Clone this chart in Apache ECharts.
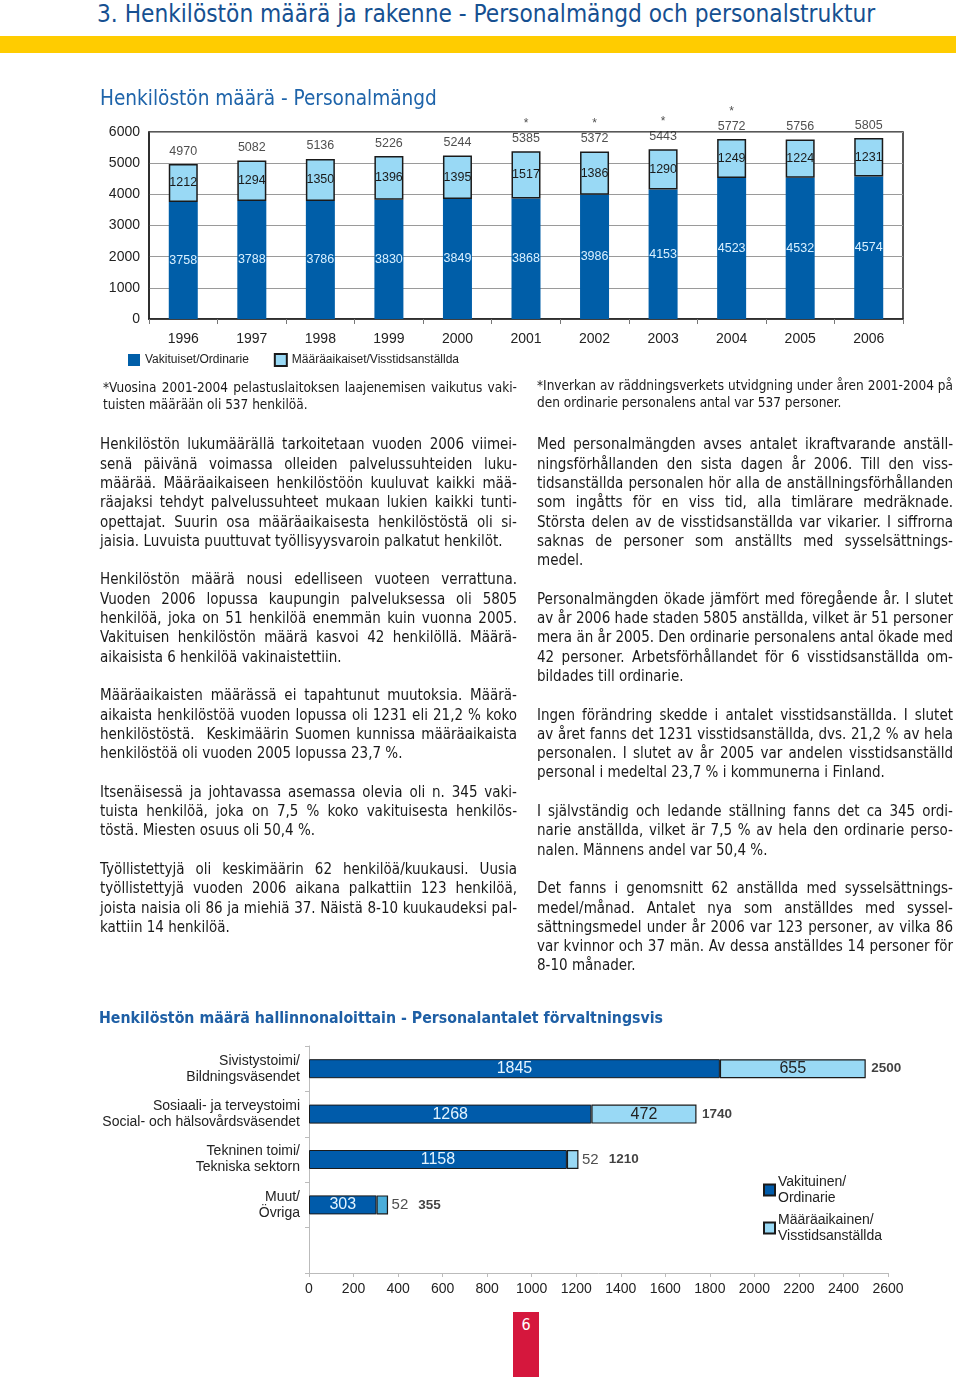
<!DOCTYPE html>
<html><head><meta charset="utf-8">
<script src="https://cdn.jsdelivr.net/npm/echarts@6/dist/echarts.min.js"></script>
<style>
html,body{margin:0;padding:0;background:#fff;}
#page{position:relative;width:960px;height:1377px;overflow:hidden;background:#fff;}
#chart{position:absolute;left:0;top:0;width:960px;height:1377px;}
.txt{position:absolute;font-family:"DejaVu Sans Condensed","DejaVu Sans",sans-serif;color:#1a1a1a;}
.txt div{white-space:nowrap;}
.j{text-align:justify;text-align-last:justify;}
.l{text-align:left;}
.blank{height:19.3px;}
#header{position:absolute;left:97px;top:1px;font-family:"DejaVu Sans Condensed","DejaVu Sans",sans-serif;font-size:24.2px;line-height:27px;color:#165091;white-space:nowrap;}
#band{position:absolute;left:0;top:36px;width:956px;height:17px;background:#FFCC00;}
#pagenum{position:absolute;left:513px;top:1312px;width:26px;height:65px;background:#D5173D;color:#fff;font-family:"DejaVu Sans Condensed","DejaVu Sans",sans-serif;font-size:16px;text-align:center;line-height:26px;}
</style></head>
<body><div id="page">
<div id="header">3. Henkilöstön määrä ja rakenne - Personalmängd och personalstruktur</div>
<div id="band"></div>
<div id="chart"></div>

<div class="txt" style="left:103px;top:378.5px;width:414px;font-size:13.5px;line-height:17px;">
<div class="j">*Vuosina 2001-2004 pelastuslaitoksen laajenemisen vaikutus vaki-</div>
<div class="l">tuisten määrään oli 537 henkilöä.</div>
</div>
<div class="txt" style="left:537px;top:376.5px;width:416px;font-size:13.5px;line-height:17px;">
<div class="j">*Inverkan av räddningsverkets utvidgning under åren 2001-2004 på</div>
<div class="l">den ordinarie personalens antal var 537 personer.</div>
</div>

<div class="txt" style="left:100px;top:435.4px;width:417px;font-size:15px;line-height:19.3px;">
<div class="j">Henkilöstön lukumäärällä tarkoitetaan vuoden 2006 viimei-</div>
<div class="j">senä päivänä voimassa olleiden palvelussuhteiden luku-</div>
<div class="j">määrää. Määräaikaiseen henkilöstöön kuuluvat kaikki mää-</div>
<div class="j">räajaksi tehdyt palvelussuhteet mukaan lukien kaikki tunti-</div>
<div class="j">opettajat. Suurin osa määräaikaisesta henkilöstöstä oli si-</div>
<div class="l">jaisia. Luvuista puuttuvat työllisyysvaroin palkatut henkilöt.</div>
<div class="blank"></div>
<div class="j">Henkilöstön määrä nousi edelliseen vuoteen verrattuna.</div>
<div class="j">Vuoden 2006 lopussa kaupungin palveluksessa oli 5805</div>
<div class="j">henkilöä, joka on 51 henkilöä enemmän kuin vuonna 2005.</div>
<div class="j">Vakituisen henkilöstön määrä kasvoi 42 henkilöllä. Määrä-</div>
<div class="l">aikaisista 6 henkilöä vakinaistettiin.</div>
<div class="blank"></div>
<div class="j">Määräaikaisten määrässä ei tapahtunut muutoksia. Määrä-</div>
<div class="j">aikaista henkilöstöä vuoden lopussa oli 1231 eli 21,2 % koko</div>
<div class="j">henkilöstöstä.&nbsp; Keskimäärin Suomen kunnissa määräaikaista</div>
<div class="l">henkilöstöä oli vuoden 2005 lopussa 23,7 %.</div>
<div class="blank"></div>
<div class="j">Itsenäisessä ja johtavassa asemassa olevia oli n. 345 vaki-</div>
<div class="j">tuista henkilöä, joka on 7,5 % koko vakituisesta henkilös-</div>
<div class="l">töstä. Miesten osuus oli 50,4 %.</div>
<div class="blank"></div>
<div class="j">Työllistettyjä oli keskimäärin 62 henkilöä/kuukausi. Uusia</div>
<div class="j">työllistettyjä vuoden 2006 aikana palkattiin 123 henkilöä,</div>
<div class="j">joista naisia oli 86 ja miehiä 37. Näistä 8-10 kuukaudeksi pal-</div>
<div class="l">kattiin 14 henkilöä.</div>
</div>

<div class="txt" style="left:537px;top:435.4px;width:416px;font-size:15px;line-height:19.3px;">
<div class="j">Med personalmängden avses antalet ikraftvarande anställ-</div>
<div class="j">ningsförhållanden den sista dagen år 2006. Till den viss-</div>
<div class="j">tidsanställda personalen hör alla de anställningsförhållanden</div>
<div class="j">som ingåtts för en viss tid, alla timlärare medräknade.</div>
<div class="j">Största delen av de visstidsanställda var vikarier. I siffrorna</div>
<div class="j">saknas de personer som anställts med sysselsättnings-</div>
<div class="l">medel.</div>
<div class="blank"></div>
<div class="j">Personalmängden ökade jämfört med föregående år. I slutet</div>
<div class="j">av år 2006 hade staden 5805 anställda, vilket är 51 personer</div>
<div class="j" style="letter-spacing:-0.05px;word-spacing:-0.5px;">mera än år 2005. Den ordinarie personalens antal ökade med</div>
<div class="j">42 personer. Arbetsförhållandet för 6 visstidsanställda om-</div>
<div class="l">bildades till ordinarie.</div>
<div class="blank"></div>
<div class="j">Ingen förändring skedde i antalet visstidsanställda. I slutet</div>
<div class="j">av året fanns det 1231 visstidsanställda, dvs. 21,2 % av hela</div>
<div class="j">personalen. I slutet av år 2005 var andelen visstidsanställd</div>
<div class="l">personal i medeltal 23,7 % i kommunerna i Finland.</div>
<div class="blank"></div>
<div class="j">I självständig och ledande ställning fanns det ca 345 ordi-</div>
<div class="j">narie anställda, vilket är 7,5 % av hela den ordinarie perso-</div>
<div class="l">nalen. Männens andel var 50,4 %.</div>
<div class="blank"></div>
<div class="j">Det fanns i genomsnitt 62 anställda med sysselsättnings-</div>
<div class="j">medel/månad. Antalet nya som anställdes med syssel-</div>
<div class="j">sättningsmedel under år 2006 var 123 personer, av vilka 86</div>
<div class="j">var kvinnor och 37 män. Av dessa anställdes 14 personer för</div>
<div class="l">8-10 månader.</div>
</div>

<div id="pagenum">6</div>
</div>
<script>
// ---- Data: staff count by year ----
const years = ['1996','1997','1998','1999','2000','2001','2002','2003','2004','2005','2006'];
const ordinary = [3758,3788,3786,3830,3849,3868,3986,4153,4523,4532,4574];
const temporary = [1212,1294,1350,1396,1395,1517,1386,1290,1249,1224,1231];
const totals = [4970,5082,5136,5226,5244,5385,5372,5443,5772,5756,5805];
const starred = [false,false,false,false,false,true,true,true,true,false,false];

// ---- Data: staff by sector ----
const sectors = ['Sivistystoimi/\nBildningsväsendet','Sosiaali- ja terveystoimi\nSocial- och hälsovårdsväsendet','Tekninen toimi/\nTekniska sektorn','Muut/\nÖvriga',''];
const sectorOrdinary = [1845,1268,1158,303];
const sectorTemporary = [655,472,52,52];
const sectorTotals = [2500,1740,1210,355];

const FONT = '"Liberation Sans", Arial, sans-serif';
const TFONT = '"DejaVu Sans Condensed", "DejaVu Sans", sans-serif';
const DARK = '#005EA8';
const LIGHT = '#99D9F5';
const INK = '#1a1a1a';
const plain = v => String(v);

const chart = echarts.init(document.getElementById('chart'), null, {renderer:'canvas'});
chart.setOption({
  animation:false,
  textStyle:{fontFamily:FONT},
  title:[
    {text:'Henkilöstön määrä - Personalmängd', left:100, top:89, padding:0,
     textStyle:{fontFamily:TFONT, fontSize:20.6, fontWeight:'normal', color:'#1e64aa'}},
    {text:'Henkilöstön määrä hallinnonaloittain - Personalantalet förvaltningsvis', left:99, top:1011, padding:0,
     textStyle:{fontFamily:TFONT, fontSize:15.75, fontWeight:'bold', color:'#1e5fa5'}}
  ],
  legend:[
    {data:['Vakituiset/Ordinarie','Määräaikaiset/Visstidsanställda'], left:128, top:353, padding:0,
     itemWidth:12, itemHeight:12, itemGap:25, icon:'rect',
     textStyle:{fontFamily:FONT, fontSize:12, color:'#222'}},
    {data:['Vakituinen/\nOrdinarie','Määräaikainen/\nVisstidsanställda'], orient:'vertical', left:763, top:1166, padding:0,
     itemWidth:11, itemHeight:11, itemGap:-10, icon:'rect',
     textStyle:{fontFamily:FONT, fontSize:14, color:'#222', lineHeight:16, padding:[16,0,0,-2]}}
  ],
  grid:[
    {left:149, top:132, width:754, height:187, show:true, borderColor:'#222', borderWidth:1.5, containLabel:false},
    {left:309, top:1046, width:579, height:227, containLabel:false}
  ],
  xAxis:[
    {gridIndex:0, type:'category', data:years,
     axisLine:{lineStyle:{color:'#222', width:1.5}},
     axisTick:{show:true, length:5, lineStyle:{color:'#777'}},
     axisLabel:{fontSize:14, color:'#222', margin:13}},
    {gridIndex:1, type:'value', min:0, max:2600, interval:200,
     axisLine:{show:true, lineStyle:{color:'#bbb'}},
     axisTick:{show:true, length:4, lineStyle:{color:'#bbb'}},
     splitLine:{show:false},
     axisLabel:{fontSize:14, color:'#222', margin:9, formatter:plain}}
  ],
  yAxis:[
    {gridIndex:0, type:'value', min:0, max:6000, interval:1000,
     axisLine:{show:true, lineStyle:{color:'#222', width:1.5}},
     axisTick:{show:false},
     splitLine:{show:true, lineStyle:{color:'#9a9a9a', width:1}},
     axisLabel:{fontSize:14, color:'#222', margin:9, formatter:plain}},
    {gridIndex:1, type:'category', data:sectors, inverse:true,
     axisLine:{show:true, lineStyle:{color:'#bbb'}},
     axisTick:{show:true, length:4, lineStyle:{color:'#bbb'}},
     axisLabel:{fontSize:14, color:'#222', margin:9, lineHeight:16, align:'right'}}
  ],
  series:[
    {type:'bar', name:'Vakituiset/Ordinarie', xAxisIndex:0, yAxisIndex:0, stack:'y', barWidth:29,
     data:ordinary, itemStyle:{color:DARK},
     label:{show:true, position:'inside', color:'#d8f0ff', fontSize:12.5}},
    {type:'bar', name:'Määräaikaiset/Visstidsanställda', xAxisIndex:0, yAxisIndex:0, stack:'y', barWidth:29,
     data:temporary, itemStyle:{color:LIGHT, borderColor:INK, borderWidth:1.5},
     label:{show:true, position:'inside', color:INK, fontSize:12.5}},
    {type:'scatter', name:'total', xAxisIndex:0, yAxisIndex:0, silent:true,
     data:totals.map((v,i)=>[i,v]), symbolSize:1, itemStyle:{color:'rgba(0,0,0,0)'},
     label:{show:true, position:'top', distance:5,
       formatter:p => (starred[p.dataIndex] ? '{s|*}\n' : '') + '{v|' + p.value[1] + '}',
       rich:{s:{fontSize:12, color:'#222', lineHeight:14}, v:{fontSize:12.5, color:'#222', lineHeight:15}}}},

    {type:'bar', name:'Vakituinen/\nOrdinarie', xAxisIndex:1, yAxisIndex:1, stack:'s', barWidth:19,
     data:sectorOrdinary, itemStyle:{color:'#005BAA', borderColor:INK, borderWidth:1},
     label:{show:true, position:'inside', color:'#e3f4ff', fontSize:16}},
    {type:'bar', name:'Määräaikainen/\nVisstidsanställda', xAxisIndex:1, yAxisIndex:1, stack:'s', barWidth:19,
     data:sectorTemporary.map((v,i)=> i === 3 ? {value:v, itemStyle:{color:'#4AADDA'}} : v),
     itemStyle:{color:LIGHT, borderColor:INK, borderWidth:1.2},
     label:{show:true, position:'inside', color:'#222', fontSize:16,
       formatter:p => p.value >= 100 ? String(p.value) : ''}},
    {type:'scatter', name:'sectorTotal', xAxisIndex:1, yAxisIndex:1, silent:true,
     data:sectorTotals.map((v,i)=>[v,i]), symbolSize:1, itemStyle:{color:'rgba(0,0,0,0)'},
     label:{show:true, position:'right', distance:3,
       formatter:p => {
         const t = sectorTemporary[p.dataIndex];
         return (t < 100 ? '{n|' + t + '}' : '') + '{b|' + p.value[0] + '}';
       },
       rich:{n:{fontSize:15, color:'#222', padding:[0,8,0,0]}, b:{fontSize:13.5, fontWeight:'bold', color:'#111', padding:[0,0,0,2]}}}}
  ]
});
</script>
</body></html>
